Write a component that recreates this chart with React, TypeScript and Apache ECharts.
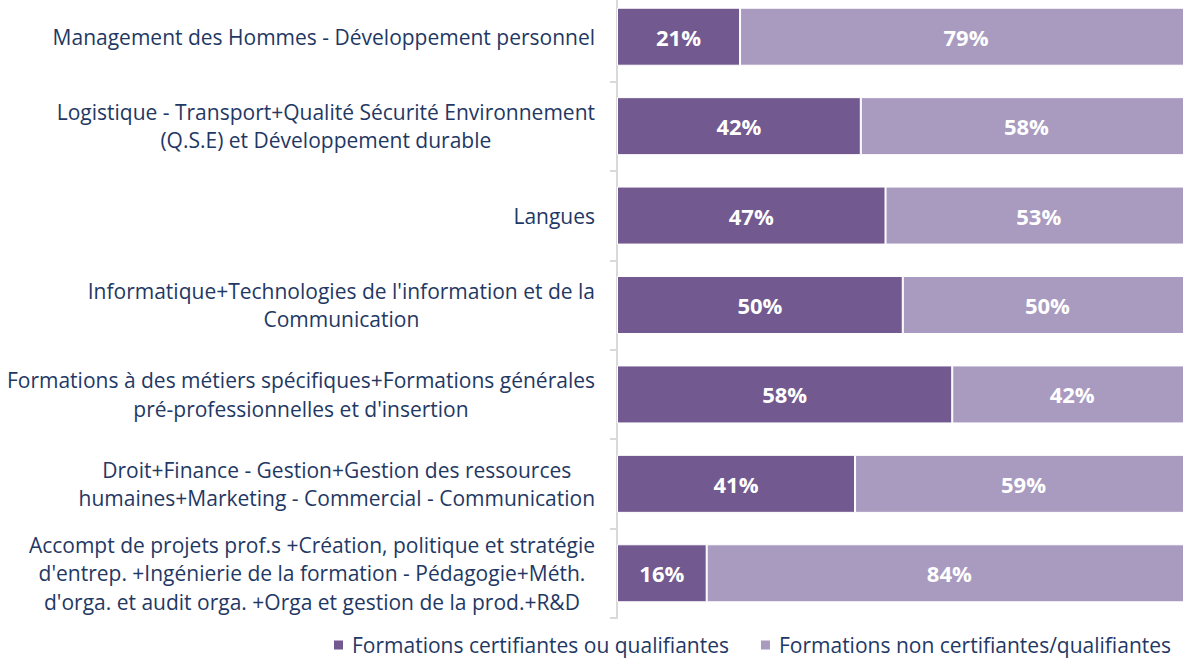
import React, { useEffect, useRef } from "react";
import * as echarts from "echarts";

const categories: string[] = [
  "Management des Hommes - Développement personnel",
  "Logistique - Transport+Qualité Sécurité Environnement\n(Q.S.E) et Développement durable",
  "Langues",
  "Informatique+Technologies de l'information et de la\nCommunication",
  "Formations à des métiers spécifiques+Formations générales\npré-professionnelles et d'insertion",
  "Droit+Finance - Gestion+Gestion des ressources\nhumaines+Marketing - Commercial - Communication",
  "Accompt de projets prof.s +Création, politique et stratégie\nd'entrep. +Ingénierie de la formation - Pédagogie+Méth.\nd'orga. et audit orga. +Orga et gestion de la prod.+R&D",
];
const seriesNames: string[] = [
  "Formations certifiantes ou qualifiantes",
  "Formations non certifiantes/qualifiantes",
];
const certifiantes: number[] = [21.4, 42.4, 46.7, 49.7, 58.3, 41.4, 15.6];
const nonCertifiantes: number[] = [78.6, 57.6, 53.3, 50.3, 41.7, 58.6, 84.4];

const DARK = "#72598F";
const LIGHT = "#A99BC0";
const NAVY = "#1F3864";
const FONT = "'Open Sans', sans-serif";

export default function App() {
  const ref = useRef<HTMLDivElement>(null);
  useEffect(() => {
    if (!ref.current) return;
    const chart = echarts.init(ref.current, undefined, { renderer: "svg" });
    const barLabel = {
      show: true,
      position: "inside",
      color: "#ffffff",
      fontWeight: "bold",
      fontSize: 22,
      fontFamily: FONT,
      formatter: (p: any) => `${Math.round(p.value)}%`,
    };
    chart.setOption({
      animation: false,
      backgroundColor: "#ffffff",
      grid: { left: 617, right: 0, top: 0, bottom: 43, containLabel: false },
      legend: {
        left: 332,
        top: 639,
        width: 900,
        padding: 0,
        itemWidth: 11,
        itemHeight: 11,
        itemGap: 30,
        icon: "rect",
        textStyle: { color: NAVY, fontSize: 21, fontFamily: FONT, lineHeight: 28, padding: [0, 0, 0, 3] },
        data: seriesNames,
      },
      xAxis: { type: "value", min: 0, max: 100, show: false },
      yAxis: {
        type: "category",
        inverse: true,
        data: categories,
        axisLine: { show: true, lineStyle: { color: "#d9d9d9", width: 2 } },
        axisTick: { show: true, length: 7, lineStyle: { color: "#d9d9d9", width: 2 } },
        axisLabel: {
          margin: 22,
          align: "right",
          formatter: (v: string) => v.split("\n").map((l) => `{c|${l}}`).join("\n"),
          rich: {
            c: { align: "center", color: NAVY, fontSize: 21, fontFamily: FONT, lineHeight: 28.5 },
          },
        },
      },
      series: [
        {
          name: seriesNames[0],
          type: "bar",
          stack: "total",
          barWidth: 58,
          data: certifiantes,
          itemStyle: { color: DARK, borderColor: "#ffffff", borderWidth: 1 },
          label: barLabel,
        },
        {
          name: seriesNames[1],
          type: "bar",
          stack: "total",
          barWidth: 58,
          data: nonCertifiantes,
          itemStyle: { color: LIGHT, borderColor: "#ffffff", borderWidth: 1 },
          label: barLabel,
        },
      ],
    });
    return () => chart.dispose();
  }, []);
  return (
    <div style={{ position: "fixed", left: 0, top: 0, width: 1183, height: 661, overflow: "hidden" }}>
      <div
        ref={ref}
        style={{ position: "absolute", left: 0, top: -8, width: 1192, height: 669 }}
      />
    </div>
  );
}
